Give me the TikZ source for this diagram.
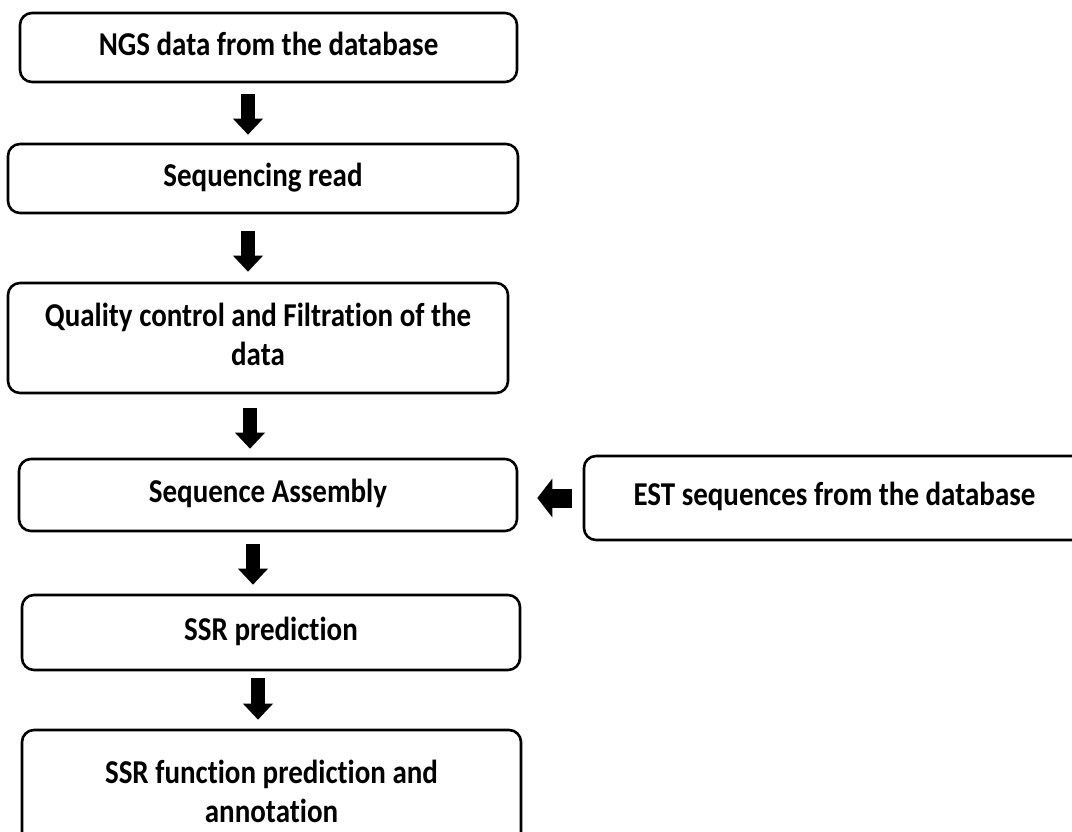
\documentclass[tikz,border=0pt]{standalone}
\usepackage{fontspec}
\usepackage{graphicx}
\setmainfont{Carlito}[Ligatures=NoCommon]
\usetikzlibrary{arrows.meta,calc}
\newcommand\boxtxt[1]{\scalebox{1}[1.15]{\begin{tabular}{@{}c@{}}#1\end{tabular}}}
\begin{document}
\begin{tikzpicture}[x=1pt,y=-1pt,
  stepbox/.style={draw=black,line width=2.6pt,rounded corners=12pt,fill=white,
    font=\fontsize{29}{34}\selectfont\bfseries,align=center,inner sep=0pt},
  blk/.style={line width=14pt,-{Triangle[length=16pt,width=29pt]}},
  blkh/.style={line width=19pt,-{Triangle[length=15pt,width=38pt]}}]
\useasboundingbox (0,0) rectangle (1072,831);
\clip (0,0) rectangle (1072,831);
\node[stepbox,minimum width=497pt,minimum height=69pt] (n1) at (268.5,47.5) {\boxtxt{NGS data from the database}};
\node[stepbox,minimum width=510pt,minimum height=69pt] (n2) at (263,178.5) {\boxtxt{Sequencing read}};
\node[stepbox,minimum width=500pt,minimum height=110pt] (n3) at (258,338) {\boxtxt{Quality control and Filtration of the\\data}};
\node[stepbox,minimum width=498pt,minimum height=72pt] (n4) at (268,495) {\boxtxt{Sequence Assembly}};
\node[stepbox,minimum width=501pt,minimum height=84pt] (est) at (834.5,498) {\boxtxt{EST sequences from the database}};
\node[stepbox,minimum width=498pt,minimum height=75pt] (n5) at (271,632.5) {\boxtxt{SSR prediction}};
\node[stepbox,minimum width=499pt,minimum height=130pt] (n6) at (271.5,795) {\boxtxt{SSR function prediction and\\annotation}};
\coordinate (x1) at (248,0);
\coordinate (x2) at (248,0);
\coordinate (x3) at (250,0);
\coordinate (x4) at (253,0);
\coordinate (x5) at (258,0);
\draw[blk,shorten <=11pt,shorten >=8pt] (n1.south -| x1) -- (n2.north -| x1);
\draw[blk,shorten <=17pt,shorten >=10pt] (n2.south -| x2) -- (n3.north -| x2);
\draw[blk,shorten <=14pt,shorten >=9pt] (n3.south -| x3) -- (n4.north -| x3);
\draw[blk,shorten <=12pt,shorten >=9pt] (n4.south -| x4) -- (n5.north -| x4);
\draw[blk,shorten <=7pt,shorten >=9pt] (n5.south -| x5) -- (n6.north -| x5);
\draw[blkh,shorten <=11pt,shorten >=19pt] (est.west) -- (est.west -| n4.east);
\end{tikzpicture}
\end{document}
